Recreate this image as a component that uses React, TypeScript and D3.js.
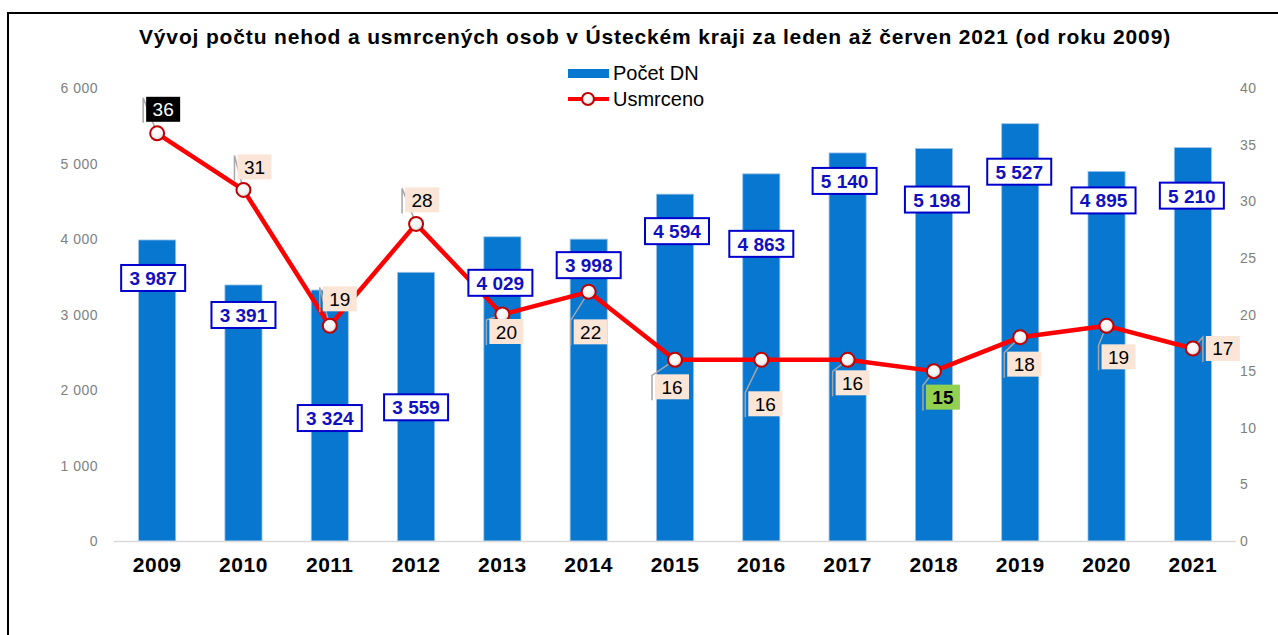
import React, { useEffect, useRef } from 'react';
import * as d3 from 'd3';

const years = ['2009', '2010', '2011', '2012', '2013', '2014', '2015', '2016', '2017', '2018', '2019', '2020', '2021'];
const accidents = [3987, 3391, 3324, 3559, 4029, 3998, 4594, 4863, 5140, 5198, 5527, 4895, 5210];
const killed = [36, 31, 19, 28, 20, 22, 16, 16, 16, 15, 18, 19, 17];
const leftTicks = [0, 1000, 2000, 3000, 4000, 5000, 6000];
const rightTicks = [0, 5, 10, 15, 20, 25, 30, 35, 40];

// hand placed data label offsets (like the original excel chart)
const barLabelOffset = [[-4, 38], [0, 30], [0, 128], [0, 135], [-2, 46], [0, 26], [2, 37], [0, 70], [-3, 28], [3, 51], [-1, 48], [-3, 29], [-1, 48]];
const lineLabelOffset = [[6, -24], [11, -23], [10, -27], [6, -24], [4, 17], [2, 40], [-3, 27], [4, 44], [5, 23], [9, 26], [4, 27], [12, 31], [30, 0]];

const font = "Arial, 'Liberation Sans', sans-serif";
const fmt = (v: number) => d3.format(',')(v).replace(',', ' ');

const Chart = () => {
  const ref = useRef<SVGSVGElement>(null);

  useEffect(() => {
    const svg = d3.select(ref.current);
    svg.selectAll('*').remove();

    const x = d3.scaleBand().domain(years).range([114, 1236]).paddingInner(0.57).paddingOuter(0.285);
    const yL = d3.scaleLinear().domain([0, 6000]).range([541, 88]);
    const yR = d3.scaleLinear().domain([0, 40]).range([541, 88]);
    const cx = (i: number) => (x(years[i]) as number) + x.bandwidth() / 2;

    const defs = svg.append('defs');
    const grad = defs.append('radialGradient').attr('id', 'mk').attr('cx', '40%').attr('cy', '35%').attr('r', '70%');
    grad.append('stop').attr('offset', '0%').attr('stop-color', '#ffffff');
    grad.append('stop').attr('offset', '60%').attr('stop-color', '#f4f4f4');
    grad.append('stop').attr('offset', '100%').attr('stop-color', '#c8c8c8');

    // frame
    svg.append('rect').attr('x', 8).attr('y', 13).attr('width', 1300).attr('height', 700)
      .attr('fill', 'white').attr('stroke', 'black').attr('stroke-width', 2);

    // title
    svg.append('text').attr('x', 655).attr('y', 44).attr('text-anchor', 'middle')
      .style('font-family', font).style('font-size', '21px').style('font-weight', 'bold')
      .style('letter-spacing', '0.85px')
      .text('Vývoj počtu nehod a usmrcených osob v Ústeckém kraji za leden až červen 2021 (od roku 2009)');

    // legend
    svg.append('rect').attr('x', 568).attr('y', 69).attr('width', 41).attr('height', 9).attr('fill', '#0777cf');
    svg.append('text').attr('x', 613).attr('y', 80).style('font-family', font).style('font-size', '20px').text('Počet DN');
    svg.append('line').attr('x1', 568).attr('x2', 609).attr('y1', 99).attr('y2', 99).attr('stroke', '#ff0000').attr('stroke-width', 4);
    svg.append('circle').attr('cx', 588).attr('cy', 99).attr('r', 6).attr('fill', 'url(#mk)').attr('stroke', '#c00000').attr('stroke-width', 2);
    svg.append('text').attr('x', 613).attr('y', 106).style('font-family', font).style('font-size', '20px').text('Usmrceno');

    // axes labels
    svg.append('g').selectAll('text').data(leftTicks).join('text')
      .attr('x', 98).attr('y', d => yL(d) + 5).attr('text-anchor', 'end')
      .style('font-family', font).style('font-size', '14px').style('letter-spacing', '0.5px').attr('fill', '#7f7f7f')
      .text(d => fmt(d));
    svg.append('g').selectAll('text').data(rightTicks).join('text')
      .attr('x', 1240).attr('y', d => yR(d) + 5)
      .style('font-family', font).style('font-size', '14px').style('letter-spacing', '0.5px').attr('fill', '#7f7f7f')
      .text(d => d);

    // bars
    svg.append('g').selectAll('rect').data(accidents).join('rect')
      .attr('x', (d, i) => x(years[i]) as number).attr('y', d => yL(d))
      .attr('width', x.bandwidth()).attr('height', d => yL(0) - yL(d))
      .attr('fill', '#0777cf').attr('stroke', '#9dc3e6').attr('stroke-width', 0.8);

    svg.append('line').attr('x1', 114).attr('x2', 1236).attr('y1', 541.5).attr('y2', 541.5)
      .attr('stroke', '#d9d9d9').attr('stroke-width', 1.5);

    svg.append('g').selectAll('text').data(years).join('text')
      .attr('x', (d, i) => cx(i)).attr('y', 572).attr('text-anchor', 'middle')
      .style('font-family', font).style('font-size', '21px').style('font-weight', 'bold')
      .style('letter-spacing', '0.5px')
      .text(d => d);

    // line
    const line = d3.line<number>().x((d, i) => cx(i)).y(d => yR(d));
    svg.append('path').datum(killed).attr('d', line).attr('fill', 'none')
      .attr('stroke', '#ff0000').attr('stroke-width', 4.5).attr('stroke-linejoin', 'round');

    // line label leaders + boxes
    const lw = 34, lh = 25;
    killed.forEach((v, i) => {
      const px = cx(i), py = yR(v);
      const lx = px + lineLabelOffset[i][0], ly = py + lineLabelOffset[i][1];
      const bx = lx - lw / 2, by = ly - lh / 2;
      svg.append('path')
        .attr('d', `M${px},${py} L${bx - 3},${by + 1} L${bx - 3},${by + lh + 1}`)
        .attr('fill', 'none').attr('stroke', '#a6a6a6').attr('stroke-width', 1.5);
    });

    svg.append('g').selectAll('circle').data(killed).join('circle')
      .attr('cx', (d, i) => cx(i)).attr('cy', d => yR(d)).attr('r', 7)
      .attr('fill', 'url(#mk)').attr('stroke', '#c00000').attr('stroke-width', 2);

    killed.forEach((v, i) => {
      const lx = cx(i) + lineLabelOffset[i][0], ly = yR(v) + lineLabelOffset[i][1];
      const isMax = v === d3.max(killed);
      const isMin = v === d3.min(killed);
      svg.append('rect').attr('x', lx - lw / 2).attr('y', ly - lh / 2).attr('width', lw).attr('height', lh)
        .attr('fill', isMax ? '#000000' : isMin ? '#92d050' : '#fbe5d6');
      svg.append('text').attr('x', lx).attr('y', ly + 7).attr('text-anchor', 'middle')
        .style('font-family', font).style('font-size', '19px')
        .style('font-weight', isMin ? 'bold' : 'normal')
        .attr('fill', isMax ? '#ffffff' : '#000000')
        .text(v);
    });

    // bar labels
    const bw = 64, bh = 26;
    accidents.forEach((v, i) => {
      const lx = cx(i) + barLabelOffset[i][0], ly = yL(v) + barLabelOffset[i][1];
      svg.append('rect').attr('x', lx - bw / 2).attr('y', ly - bh / 2).attr('width', bw).attr('height', bh)
        .attr('fill', 'white').attr('stroke', '#0000cc').attr('stroke-width', 2);
      svg.append('text').attr('x', lx).attr('y', ly + 7).attr('text-anchor', 'middle')
        .style('font-family', font).style('font-size', '19px').style('font-weight', 'bold')
        .attr('fill', '#1010c0').text(fmt(v));
    });
  }, []);

  return (
    <div style={{ position: 'absolute', left: 0, top: 0, width: 1278, height: 635, overflow: 'hidden' }}>
      <svg ref={ref} width={1278} height={635}></svg>
    </div>
  );
};

export default function App() {
  return <Chart />;
}
